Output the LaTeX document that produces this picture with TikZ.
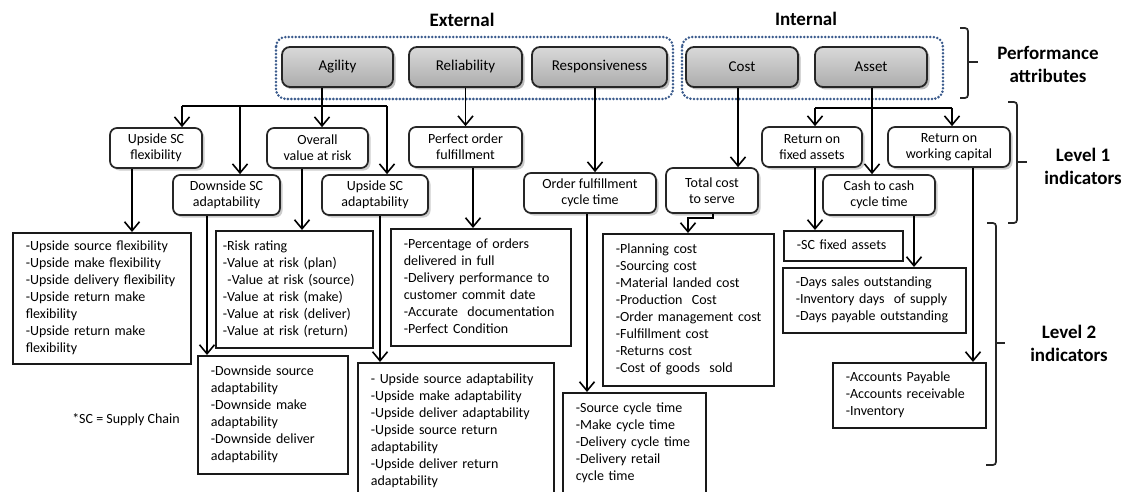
\documentclass[tikz,border=0pt]{standalone}
\usepackage{fontspec}
\setmainfont{Carlito}
\usetikzlibrary{arrows.meta,shadows}
\setlength\parindent{0pt}
\definecolor{dotblue}{RGB}{58,90,140}
\begin{document}
\begin{tikzpicture}[x=1pt,y=-1pt,
  attr/.style={rounded corners=8pt, draw=black!85, line width=1.8pt, top color=gray!30, middle color=white, bottom color=gray!65, minimum height=40pt, inner sep=0pt, font=\fontsize{15}{18}\selectfont, drop shadow={shadow xshift=2.5pt, shadow yshift=-2.5pt, opacity=0.5}},
  lvone/.style={rounded corners=7pt, draw=black!85, line width=1.7pt, fill=white, align=center, inner sep=0pt, font=\fontsize{14}{16}\selectfont, drop shadow={shadow xshift=2.5pt, shadow yshift=-2.5pt, opacity=0.4}},
  lvtwo/.style={draw=black!90, line width=1.6pt, anchor=north west, inner xsep=13pt, inner ysep=0pt, align=left, font=\fontsize{14}{17}\selectfont},
  grp/.style={draw=dotblue, line width=2.8pt, line cap=round, dash pattern=on 0pt off 3.5pt, rounded corners=10pt},
  arr/.style={draw=black, line width=1.6pt, -{Straight Barb[length=9pt, width=15pt]}},
  conn/.style={draw=black, line width=1.6pt},
  brc/.style={draw=black!85, line width=1.7pt, rounded corners=3pt},
  ttl/.style={font=\bfseries\fontsize{19}{23}\selectfont, align=center},
  note/.style={font=\fontsize{14}{17}\selectfont},
]
\path[use as bounding box, fill=white] (0,0) rectangle (1137,492);
\clip (0,0) rectangle (1137,492);

% titles
\node[ttl] (ext) at (462,20) {External};
\node[ttl] (int) at (806,19) {Internal};
\node[ttl] (perf) at (1048,64) {Performance\\attributes};
\node[ttl] (lev1) at (1083,166) {Level 1\\indicators};
\node[ttl] (lev2) at (1069,343) {Level 2\\indicators};

% braces
\draw[brc] (960,28) -- (968,28) -- (968,98) -- (960,98);
\draw[brc] (968,62) -- (978,62);
\draw[brc] (1008,102) -- (1017,102) -- (1017,223) -- (1008,223);
\draw[brc] (1017,162) -- (1027,162);
\draw[brc] (987,223) -- (996,223) -- (996,465) -- (986,465);
\draw[brc] (996,343) -- (1005,343);

% group frames
\draw[grp] (276,37) rectangle (673,99);
\draw[grp] (682,37) rectangle (943,99);

% performance attributes
\node[attr, minimum width=111pt] (agility) at (337.5,67) {Agility};
\node[attr, minimum width=113pt] (reliability) at (465.5,67) {Reliability};
\node[attr, minimum width=135pt] (responsiveness) at (599.5,67) {Responsiveness};
\node[attr, minimum width=112pt] (cost) at (742,67) {Cost};
\node[attr, minimum width=112pt] (asset) at (871,67) {Asset};

% level 1
\node[lvone, minimum width=92pt, minimum height=40pt] (usf) at (156,148) {Upside SC\\flexibility};
\node[lvone, minimum width=101pt, minimum height=40pt] (ova) at (317.5,148) {Overall\\value at risk};
\node[lvone, minimum width=107pt, minimum height=40pt] (dsa) at (226.5,195) {Downside SC\\adaptability};
\node[lvone, minimum width=106pt, minimum height=40pt] (usa) at (375,195) {Upside SC\\adaptability};
\node[lvone, minimum width=113pt, minimum height=40pt] (pof) at (465.5,147) {Perfect order\\fulfillment};
\node[lvone, minimum width=132pt, minimum height=40pt] (ofc) at (590,193) {Order fulfillment\\cycle time};
\node[lvone, minimum width=92pt, minimum height=45pt] (tcs) at (712,190.5) {Total cost\\to serve};
\node[lvone, minimum width=100pt, minimum height=40pt] (rfa) at (812,147) {Return on\\fixed assets};
\node[lvone, minimum width=122pt, minimum height=40pt] (rwc) at (949,147) {Return on\\working capital};
\node[lvone, minimum width=112pt, minimum height=40pt] (ccc) at (879,195) {Cash to cash\\cycle time};

% level 2
\node[lvtwo, minimum width=178pt, minimum height=131pt, text width=152pt] (busf) at (12,232) {\begin{tabular}{@{}l@{}}-Upside source flexibility\\-Upside make flexibility\\-Upside delivery flexibility\\-Upside return make\\flexibility\\-Upside return make\\flexibility\end{tabular}};
\node[lvtwo, inner xsep=7pt, minimum width=157pt, minimum height=117pt, text width=143pt] (bova) at (215,230) {\begin{tabular}{@{}l@{}}-Risk rating\\-Value at risk (plan)\\\ -Value at risk (source)\\-Value at risk (make)\\-Value at risk (deliver)\\-Value at risk (return)\end{tabular}};
\node[lvtwo, minimum width=150pt, minimum height=118pt, text width=124pt] (bdsa) at (197,355) {\begin{tabular}{@{}l@{}}-Downside source\\adaptability\\-Downside make\\adaptability\\-Downside deliver\\adaptability\end{tabular}};
\node[lvtwo, minimum width=196pt, minimum height=136pt, text width=170pt] (busa) at (357,362) {\begin{tabular}{@{}l@{}}- Upside source adaptability\\-Upside make adaptability\\-Upside deliver adaptability\\-Upside source return\\adaptability\\-Upside deliver return\\adaptability\end{tabular}};
\node[lvtwo, minimum width=180pt, minimum height=117pt, text width=154pt] (bpof) at (390,228) {\begin{tabular}{@{}l@{}}-Percentage of orders\\delivered in full\\-Delivery performance to\\customer commit date\\-Accurate\ \ documentation\\-Perfect Condition\end{tabular}};
\node[lvtwo, minimum width=143pt, minimum height=101pt, text width=117pt] (bofc) at (562,392) {\begin{tabular}{@{}l@{}}-Source cycle time\\-Make cycle time\\-Delivery cycle time\\-Delivery retail\\cycle time\end{tabular}};
\node[lvtwo, minimum width=171pt, minimum height=152pt, text width=145pt] (btcs) at (602,233) {\begin{tabular}{@{}l@{}}-Planning cost\\-Sourcing cost\\-Material landed cost\\-Production\ \ Cost\\-Order management cost\\-Fulfillment cost\\-Returns cost\\-Cost of goods\ \ sold\end{tabular}};
\node[lvtwo, minimum width=119pt, minimum height=30pt, text width=93pt] (brfa) at (783,230) {\begin{tabular}{@{}l@{}}-SC fixed assets\end{tabular}};
\node[lvtwo, minimum width=183pt, minimum height=65pt, text width=157pt] (bccc) at (782,267) {\begin{tabular}{@{}l@{}}-Days sales outstanding\\-Inventory days\ \ of supply\\-Days payable outstanding\end{tabular}};
\node[lvtwo, minimum width=153pt, minimum height=65pt, text width=127pt] (brwc) at (832,362) {\begin{tabular}{@{}l@{}}-Accounts Payable\\-Accounts receivable\\-Inventory\end{tabular}};

\node[note] (scnote) at (126,420) {*SC = Supply Chain};

% connectors: attributes -> level 1
\coordinate (agbus) at (322,106);
\coordinate (agL) at (182,106);
\coordinate (agD) at (240,106);
\coordinate (agR) at (387,106);
\draw[conn] (agility.south -| agbus) -- (agbus);
\draw[conn] (agL) -- (agR);
\draw[arr] (agL) -- (usf.north -| agL);
\draw[arr] (agD) -- (dsa.north -| agD);
\draw[arr] (agbus) -- (ova.north -| agbus);
\draw[arr] (agR) -- (usa.north -| agR);

\draw[arr] (reliability.south) -- (pof.north);
\coordinate (rsx) at (595,0);
\draw[arr] (responsiveness.south -| rsx) -- (ofc.north -| rsx);
\coordinate (csx) at (738,0);
\draw[arr] (cost.south -| csx) -- (tcs.north -| csx);

\coordinate (asbus) at (872,108);
\coordinate (asL) at (815,108);
\coordinate (asR) at (952,108);
\draw[conn] (asL) -- (asR);
\draw[arr] (asset.south -| asbus) -- (ccc.north -| asbus);
\draw[arr] (asL) -- (rfa.north -| asL);
\draw[arr] (asR) -- (rwc.north -| asR);

% connectors: level 1 -> level 2
\coordinate (x1) at (132,0);
\draw[arr] (usf.south -| x1) -- (busf.north -| x1);
\coordinate (x2) at (207,0);
\draw[arr] (dsa.south -| x2) -- (bdsa.north -| x2);
\coordinate (x3) at (302,0);
\draw[arr] (ova.south -| x3) -- (bova.north -| x3);
\coordinate (x4) at (380,0);
\draw[arr] (usa.south -| x4) -- (busa.north -| x4);
\coordinate (x5) at (473,0);
\draw[arr] (pof.south -| x5) -- (bpof.north -| x5);
\coordinate (x6) at (587,0);
\draw[arr] (ofc.south -| x6) -- (bofc.north -| x6);
\coordinate (tc1) at (713,218);
\coordinate (tc2) at (688,218);
\draw[arr] (tcs.south -| tc1) -- (tc1) -- (tc2) -- (btcs.north -| tc2);
\coordinate (x8) at (815,0);
\draw[arr] (rfa.south -| x8) -- (brfa.north -| x8);
\coordinate (x9) at (914,0);
\draw[arr] (ccc.south -| x9) -- (bccc.north -| x9);
\coordinate (x10) at (973,0);
\draw[arr] (rwc.south -| x10) -- (brwc.north -| x10);
\end{tikzpicture}
\end{document}
